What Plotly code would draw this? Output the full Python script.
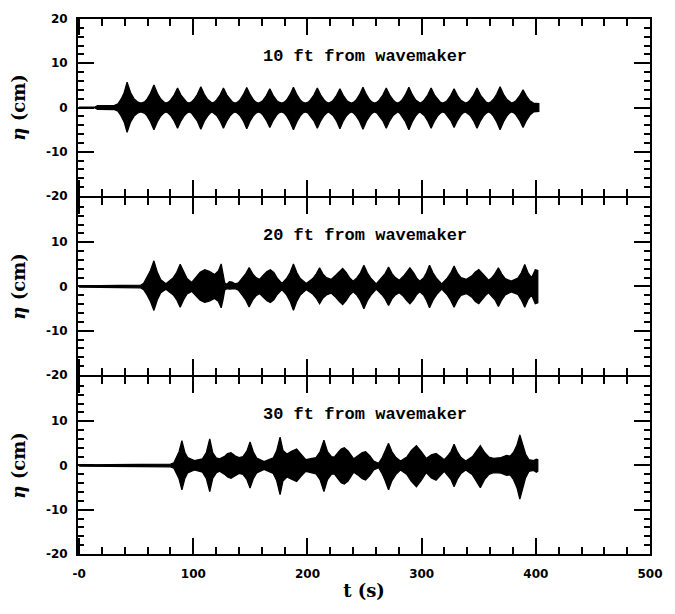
import plotly.graph_objects as go
from plotly.subplots import make_subplots

# Surface elevation envelopes (cm) versus time (s) at three gauges.
# Each gauge: time samples, upper envelope, lower envelope.

T10 = [0, 14, 16, 31, 34, 37, 39.5, 42, 45, 48, 51, 54,
       57.5, 59.5, 62.5, 65.5, 68.5, 71.5, 74, 76,
       78.2, 80.2, 83.2, 86.2, 89.2, 92.2, 94.2, 96.4,
       98.6, 100.6, 103.6, 106.6, 109.6, 112.6, 114.6, 116.5,
       118.4, 120.4, 123.4, 126.4, 129.4, 132.4, 134.4, 136.6,
       138.8, 140.8, 143.8, 146.8, 149.8, 152.8, 154.8, 156.9,
       159, 161, 164, 167, 170, 173, 175, 177.3,
       179.7, 181.7, 184.7, 187.7, 190.7, 193.7, 195.7, 198.1,
       200.6, 202.6, 205.6, 208.6, 211.6, 214.6, 216.6, 218.5,
       220.4, 222.4, 225.4, 228.4, 231.4, 234.4, 236.4, 238.5,
       240.6, 242.6, 245.6, 248.6, 251.6, 254.6, 256.6, 258.8,
       261, 263, 266, 269, 272, 275, 277, 278.9,
       280.8, 282.8, 285.8, 288.8, 291.8, 294.8, 296.8, 298.5,
       300.3, 302.3, 305.3, 308.3, 311.3, 314.3, 316.3, 318.3,
       320.4, 322.4, 325.4, 328.4, 331.4, 334.4, 336.4, 338.4,
       340.5, 342.5, 345.5, 348.5, 351.5, 354.5, 356.5, 358.6,
       360.7, 362.7, 365.7, 368.7, 371.7, 374.7, 376.7, 378.7,
       380.8, 382.8, 385.8, 388.8, 391.8, 394.8, 398, 402.6]
UP10 = [0.1, 0.1, 0.4, 0.5, 0.8, 2.0, 3.4, 5.7, 3.4, 2.0, 1.3, 1.0,
        1.3, 1.9, 3.2, 5.1, 3.2, 1.9, 1.3, 1.0,
        1.2, 1.7, 2.8, 4.4, 2.8, 1.7, 1.2, 1.0,
        1.3, 1.8, 3.0, 4.7, 3.0, 1.8, 1.3, 1.0,
        1.2, 1.7, 2.8, 4.4, 2.8, 1.7, 1.2, 1.0,
        1.2, 1.7, 2.9, 4.5, 2.9, 1.7, 1.2, 1.0,
        1.2, 1.6, 2.7, 4.2, 2.7, 1.6, 1.2, 1.0,
        1.2, 1.7, 2.9, 4.6, 2.9, 1.7, 1.2, 1.0,
        1.2, 1.7, 2.8, 4.4, 2.8, 1.7, 1.2, 1.0,
        1.2, 1.6, 2.7, 4.2, 2.7, 1.6, 1.2, 1.0,
        1.2, 1.7, 2.9, 4.6, 2.9, 1.7, 1.2, 1.0,
        1.2, 1.7, 2.8, 4.4, 2.8, 1.7, 1.2, 1.0,
        1.2, 1.7, 2.9, 4.6, 2.9, 1.7, 1.2, 1.0,
        1.2, 1.7, 2.8, 4.4, 2.8, 1.7, 1.2, 1.0,
        1.2, 1.6, 2.7, 4.2, 2.7, 1.6, 1.2, 1.0,
        1.2, 1.7, 2.8, 4.4, 2.8, 1.7, 1.2, 1.0,
        1.3, 1.8, 3.0, 4.7, 3.0, 1.8, 1.3, 1.0,
        1.2, 1.6, 2.6, 4.0, 2.6, 1.5, 1.0, 0.9]
LO10 = [-0.1, -0.1, -0.4, -0.5, -0.8, -2.0, -3.3, -5.6, -3.3, -2.0, -1.3, -1.0,
        -1.3, -1.9, -3.2, -5.0, -3.2, -1.9, -1.3, -1.0,
        -1.3, -1.8, -3.0, -4.7, -3.0, -1.8, -1.3, -1.0,
        -1.3, -1.9, -3.1, -4.9, -3.1, -1.9, -1.3, -1.0,
        -1.3, -1.8, -3.0, -4.7, -3.0, -1.8, -1.3, -1.0,
        -1.3, -1.8, -3.0, -4.8, -3.0, -1.8, -1.3, -1.0,
        -1.2, -1.7, -2.9, -4.5, -2.9, -1.7, -1.2, -1.0,
        -1.3, -1.9, -3.2, -5.0, -3.2, -1.9, -1.3, -1.0,
        -1.3, -1.8, -3.0, -4.7, -3.0, -1.8, -1.3, -1.0,
        -1.3, -1.8, -3.0, -4.8, -3.0, -1.8, -1.3, -1.0,
        -1.3, -1.9, -3.1, -4.9, -3.1, -1.9, -1.3, -1.0,
        -1.3, -1.8, -3.0, -4.7, -3.0, -1.8, -1.3, -1.0,
        -1.3, -1.9, -3.2, -5.0, -3.2, -1.9, -1.3, -1.0,
        -1.3, -1.8, -3.0, -4.7, -3.0, -1.8, -1.3, -1.0,
        -1.2, -1.7, -2.9, -4.5, -2.9, -1.7, -1.2, -1.0,
        -1.3, -1.8, -3.0, -4.7, -3.0, -1.8, -1.3, -1.0,
        -1.3, -1.9, -3.2, -5.0, -3.2, -1.9, -1.3, -1.0,
        -1.2, -1.7, -2.9, -4.5, -2.9, -1.7, -1.0, -0.9]

T20 = [0, 20, 54, 56.5, 59.5, 62.5, 65.5, 68.5, 71.5, 76,
       82.5, 85.5, 88.5, 91.5, 94.5, 98.6,
       102, 106, 110, 114, 118.7, 122, 124.4, 126, 127.5, 129.5, 131.6, 134, 136.5,
       139.5, 143, 146, 148.9, 151.9, 154.9, 158,
       161.5, 164.5, 167.5, 170.5, 173.5, 177.6,
       181.7, 184.7, 187.7, 190.7, 193.7, 199,
       204.6, 207.6, 210.6, 213.6, 216.6, 220.7,
       225, 228, 230.8, 233.8, 236.8, 240,
       243.4, 246.4, 249.4, 252.4, 255.4, 260.2,
       265, 268, 271, 274, 277, 280.4,
       284, 287, 289.7, 292.7, 295.7, 298.3,
       301.9, 304.2, 306.9, 309.9, 312.9, 317.6,
       322.4, 325.4, 328.4, 331.4, 334.4, 339.2,
       344, 347, 350, 353, 356, 358.6,
       361.2, 364.2, 367.2, 370.2, 373.2, 378.4,
       384.3, 387.3, 390.3, 393.3, 396.3, 399.5, 401.7]
UP20 = [0.15, 0.2, 0.3, 0.7, 2.0, 3.6, 5.8, 3.2, 1.5, 0.6,
        2.0, 3.2, 5.0, 3.2, 1.8, 0.9,
        1.9, 3.2, 3.8, 3.4, 2.7, 3.5, 5.1, 3.0, 0.8, 0.5, 1.1, 1.0, 0.6,
        0.8, 1.9, 2.9, 4.3, 2.9, 2.0, 1.6,
        2.6, 3.4, 3.8, 3.2, 1.9, 0.7,
        1.8, 3.1, 5.1, 3.1, 1.8, 0.7,
        1.8, 2.8, 4.2, 2.8, 2.0, 1.6,
        2.6, 3.5, 4.1, 3.2, 2.0, 1.2,
        2.0, 3.1, 4.8, 3.1, 1.9, 0.6,
        1.9, 2.9, 4.4, 2.9, 2.0, 1.4,
        2.3, 3.4, 4.2, 3.2, 1.9, 1.2,
        2.0, 3.1, 4.8, 3.1, 1.9, 0.6,
        1.9, 3.0, 4.6, 3.0, 2.0, 1.6,
        2.4, 3.3, 3.8, 3.0, 2.0, 1.4,
        1.9, 2.9, 4.2, 2.8, 1.8, 1.2,
        1.9, 3.1, 5.0, 3.0, 2.0, 3.8, 3.6]
LO20 = [-0.15, -0.2, -0.3, -0.7, -1.9, -3.4, -5.4, -3.0, -1.4, -0.6,
        -1.9, -3.0, -4.7, -3.0, -1.7, -1.1,
        -1.9, -3.1, -3.6, -3.3, -2.7, -3.4, -4.8, -3.0, -0.8, -0.5, -0.6, -0.6, -0.5,
        -0.8, -2.0, -3.1, -4.6, -3.1, -2.1, -1.6,
        -2.5, -3.2, -3.6, -3.0, -1.8, -0.7,
        -1.9, -3.3, -5.4, -3.3, -1.9, -0.7,
        -1.7, -2.6, -3.9, -2.6, -1.9, -1.5,
        -2.5, -3.4, -4.1, -3.2, -2.0, -1.2,
        -2.0, -3.2, -5.0, -3.2, -2.0, -0.6,
        -1.8, -2.8, -4.3, -2.8, -1.9, -1.4,
        -2.2, -3.2, -3.9, -3.0, -1.8, -1.2,
        -2.0, -3.1, -4.8, -3.1, -1.9, -0.6,
        -1.9, -3.1, -4.7, -3.1, -2.0, -1.6,
        -2.4, -3.4, -3.9, -3.0, -2.0, -1.4,
        -2.0, -3.0, -4.5, -3.0, -1.9, -1.2,
        -1.8, -3.0, -4.7, -2.9, -1.9, -3.9, -3.7]

T30 = [0, 40, 80, 83, 85.5, 87.5, 90, 92.5, 95, 101,
       108, 111.5, 114.4, 117, 120, 123,
       127.5, 130, 133, 136.5, 140,
       143.5, 147, 149.7, 152.5, 155.5, 162,
       170, 173, 176, 178.5, 182, 186, 190.5, 194.5, 198.5,
       207.5, 211, 214.4, 217.5, 221, 223.5,
       227, 229.5, 232.2, 235.5, 240.5,
       245, 248, 250.9, 254.5, 258, 262.3,
       265.5, 268, 271, 274, 277.5, 281.5,
       287, 291, 295.4, 299.5, 304, 308.5, 312.6, 316.5, 319.8,
       323, 325.8, 328.4, 331.4, 334.5, 338.6,
       344.5, 348, 351.4, 355, 359, 363, 369.5, 374.4, 377.5,
       380.5, 383.5, 386, 388.5, 391, 394, 398, 400.5, 401.7]
UP30 = [0.15, 0.2, 0.3, 0.6, 1.8, 3.1, 5.6, 3.0, 1.8, 1.1,
        1.5, 3.0, 6.0, 2.9, 1.7, 1.5,
        2.1, 2.7, 2.9, 2.2, 1.8,
        2.0, 3.3, 5.3, 3.1, 1.7, 0.9,
        1.7, 3.3, 6.4, 3.4, 2.6, 3.2, 3.7, 2.5, 1.3,
        1.8, 3.1, 5.7, 3.1, 2.0, 1.9,
        3.0, 3.7, 4.0, 3.3, 1.5,
        2.3, 2.9, 3.1, 2.2, 1.0, 0.5,
        1.8, 3.1, 5.0, 3.1, 1.8, 1.0,
        1.9, 3.4, 4.5, 3.2, 1.6, 2.4, 2.7, 2.0, 1.3,
        2.2, 3.2, 4.8, 3.0, 1.8, 1.0,
        2.0, 3.2, 4.5, 3.0, 1.9, 1.6, 1.8, 2.3, 2.1,
        3.0, 4.6, 6.9, 4.5, 2.6, 1.3, 1.1, 1.4, 1.3]
LO30 = [-0.15, -0.2, -0.3, -0.6, -1.8, -3.0, -5.5, -3.0, -1.7, -1.0,
        -1.5, -3.0, -5.9, -2.9, -1.7, -1.3,
        -2.0, -2.6, -2.9, -2.3, -1.8,
        -2.0, -3.2, -5.1, -3.0, -1.7, -0.9,
        -1.8, -3.4, -6.6, -3.5, -2.6, -3.1, -3.6, -2.4, -1.3,
        -1.9, -3.2, -5.9, -3.2, -2.0, -1.9,
        -3.1, -3.9, -4.2, -3.5, -1.5,
        -2.3, -3.0, -3.3, -2.3, -1.0, -0.5,
        -1.9, -3.4, -5.5, -3.4, -2.0, -1.0,
        -2.0, -3.6, -4.8, -3.4, -1.6, -2.8, -3.3, -2.2, -1.3,
        -2.2, -3.2, -4.8, -3.0, -1.8, -1.0,
        -2.1, -3.4, -5.0, -3.2, -2.0, -1.6, -1.7, -2.2, -2.1,
        -3.2, -5.0, -7.6, -5.0, -2.8, -1.3, -1.1, -1.5, -1.3]

GAUGES = ["10 ft from wavemaker", "20 ft from wavemaker", "30 ft from wavemaker"]
SERIES = [(T10, UP10, LO10), (T20, UP20, LO20), (T30, UP30, LO30)]

X_TICKS = [0, 100, 200, 300, 400, 500]
X_TICK_TEXT = ["-0", "100", "200", "300", "400", "500"]
Y_TICKS_TOP = [-20, -10, 0, 10, 20]
Y_TEXT_TOP = ["-20", "-10", "0", "10", "20"]
Y_TICKS = [-20, -10, 0, 10]
Y_TEXT = ["-20", "-10", "0", "10"]

SERIF = "DejaVu Serif"
SANS = "DejaVu Sans"
MONO = "Liberation Mono"

# plot area is 537 px tall; a 2 px gap lets neighbouring frame lines coincide
fig = make_subplots(rows=3, cols=1, shared_xaxes=True, vertical_spacing=2 / 537)

for i, (t, up, lo) in enumerate(SERIES, start=1):
    # closed outline: upper envelope forward, lower envelope back
    xs = list(t) + list(reversed(t))
    ys = list(up) + list(reversed(lo))
    fig.add_trace(go.Scatter(x=xs, y=ys, mode="lines", fill="toself",
                             fillcolor="black",
                             line=dict(color="black", width=1.3),
                             hoverinfo="skip", showlegend=False),
                  row=i, col=1)
    fig.add_annotation(x=250, y=11.5, xref=f"x{'' if i == 1 else i}",
                       yref=f"y{'' if i == 1 else i}",
                       text=GAUGES[i - 1], showarrow=False,
                       font=dict(family=MONO, size=17, color="black", weight="bold"))

    fig.update_xaxes(range=[-1, 500], tickmode="array",
                     tickvals=X_TICKS, ticktext=X_TICK_TEXT,
                     ticks="inside", ticklen=16, tickwidth=2, tickcolor="black",
                     showline=True, linewidth=2, linecolor="black",
                     mirror="allticks", showgrid=False, zeroline=False,
                     minor=dict(ticks="inside", ticklen=7, tickwidth=2,
                                tickcolor="black", dtick=20, tick0=0, showgrid=False),
                     showticklabels=(i == 3), ticklabelstandoff=8,
                     tickfont=dict(family=SANS, size=12, color="black", weight="bold"),
                     row=i, col=1)
    fig.update_yaxes(range=[-20, 20], tickmode="array",
                     tickvals=Y_TICKS_TOP if i == 1 else Y_TICKS,
                     ticktext=Y_TEXT_TOP if i == 1 else Y_TEXT,
                     ticks="inside", ticklen=16, tickwidth=2, tickcolor="black",
                     showline=True, linewidth=2, linecolor="black",
                     mirror="allticks", showgrid=False, zeroline=False,
                     minor=dict(ticks="inside", ticklen=6, tickwidth=2,
                                tickcolor="black", dtick=2, tick0=0, showgrid=False),
                     ticklabelstandoff=6,
                     tickfont=dict(family=SANS, size=12, color="black", weight="bold"),
                     title=dict(text="<i>η</i> (cm)", standoff=16,
                                font=dict(family=SERIF, size=18, color="black", weight="bold")),
                     row=i, col=1)

fig.update_xaxes(title=dict(text="t (s)", standoff=4,
                            font=dict(family=SERIF, size=18, color="black", weight="bold")),
                 row=3, col=1)

fig.update_layout(width=675, height=614,
                  margin=dict(l=78, r=15, t=17, b=60),
                  plot_bgcolor="white", paper_bgcolor="white",
                  font=dict(family=SANS, color="black"))

fig.write_html("out.html")
